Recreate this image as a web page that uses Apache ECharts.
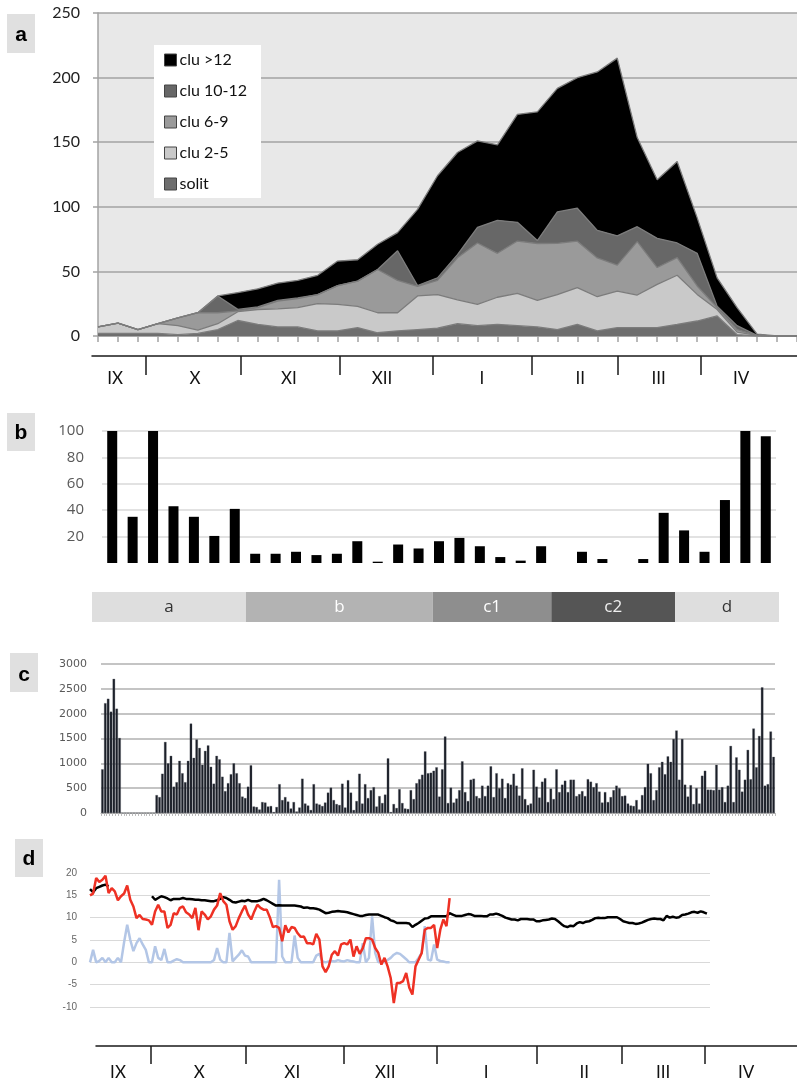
<!DOCTYPE html>
<html><head><meta charset="utf-8">
<script src="https://cdn.jsdelivr.net/npm/echarts@6/dist/echarts.min.js"></script>
<style>html,body{margin:0;padding:0;background:#fff}#chart{width:797px;height:1081px}</style>
</head><body><div id="chart"></div>
<script>
// ---------- panel a : weekly stacked counts ----------
const weeks = ['1','2','3','4','5','6','7','8','9','10','11','12','13','14','15','16','17','18','19','20','21','22','23','24','25','26','27','28','29','30','31','32','33','34','35','36'];
const solit  = [2,2,2,2,1,2,5,12,9,7,7,4,4,6.5,2.5,4,5,6,9.5,8,9,8,7,5,9,4,6.5,6.5,6.5,9,11.6,15.5,1,0,0,0];
const clu2_5 = [5,8,3,7.5,7,2.6,4.5,6.8,11.5,14,15,21,20.5,16.5,15.5,14,26,26,18.5,16.5,21,25,20.6,27,28.4,26.4,28.3,25.2,33.5,38,20.6,5,2,0.5,0,0];
const clu6_9 = [0,0,0,0,6,13.4,8.5,0.6,1.5,6,7,7,14.5,19.5,33.5,25,7.5,11,32.5,47.5,34,40.5,44,39.7,36,30,20,41.3,13,13.6,6.5,1.5,2,0,0,0];
const clu10_12 = [0,0,0,0,0,0,13,1.2,0.5,0.5,0.5,0,0,0,0,23,0.5,2,2.5,12,25.5,14.5,2.3,24.3,25.5,21.4,22.7,11.6,22.6,11.4,25.3,1,3,0,0,0];
const cluOver12 = [0,0,0,0,0,0,0,13,14,13.5,13.5,15,19,16.5,19.5,14,59,79,79,67,58.5,83.5,99.6,95.7,101,122.6,137.6,69,45.4,63,27.6,22,14,1,0,0];
const seriesNamesA = ['solit','clu 2-5','clu 6-9','clu 10-12','clu >12'];

// ---------- month axes ----------
const monthNames = ['IX','X','XI','XII','I','II','III','IV'];
const monthBoundsA = [2.39,7.11,12.04,16.67,21.59,25.87,30.0];   // in week index units
const monthMidsA   = [0.85,4.83,9.5,14.13,19.1,24.0,27.9,32.0];
const monthBoundsD = [19.7,50.3,81.9,111.9,143.9,171.6,198.4];   // in day index units
const monthMidsD   = [9,35.2,65.2,95.2,127.7,159.4,184.8,211.6];

// ---------- panel b ----------
const bCats = ['1','2','3','4','5','6','7','8','9','10','11','12','13','14','15','16','17','18','19','20','21','22','23','24','25','26','27','28','29','30','31','32','33'];
const bVals = [100,35,101,43,35,20.5,41,7,7,8.5,6,7,16.5,1,14,11,16.5,19,12.7,4.5,1.8,12.7,0,8.5,3,0,3,38,24.7,8.5,47.7,101,96];
const phaseNames  = ['a','b','c1','c2','d'];
const phaseBounds = [-0.49,7.05,16.2,22,28.06,33.15];

// ---------- panel c : daily bars ----------
const cVals = [880,2210,2300,2040,2700,2100,1510,0,0,0,0,0,0,0,0,0,0,0,0,
360,320,790,1430,1000,1150,530,620,1050,800,620,1050,1800,1110,1480,1310,970,1250,1360,930,
590,1150,1080,730,440,600,780,1000,800,600,330,300,530,960,130,120,70,220,210,130,
140,20,120,580,260,320,230,90,220,30,110,690,190,150,60,580,190,170,140,210,
410,510,260,180,160,590,110,660,410,60,240,790,190,580,300,460,520,130,340,200,
370,1100,20,180,100,
480,200,90,80,460,280,600,680,770,1240,800,810,850,920,330,880,1540,200,510,210,
290,460,1040,420,240,670,690,340,300,550,340,550,940,320,800,500,690,300,600,570,
790,550,350,900,280,160,190,870,530,310,630,700,220,490,280,880,420,570,650,420,
670,670,340,380,440,340,680,630,520,600,430,210,420,220,320,460,550,500,340,350,
190,150,140,260,70,360,520,990,800,260,460,920,1030,780,1140,1030,1490,1660,670,1490,
570,330,560,180,500,190,750,850,470,470,460,970,470,520,220,550,1350,220,1120,870,
430,670,1270,680,1700,920,1550,2530,550,580,1640,1130];
const cCats = cVals.map((v, i) => String(i + 1));

// ---------- panel d : daily lines ----------
const dDays = Array.from({length: 201}, (_, i) => String(i + 1));
const tempBlack = [16.4,15.7,16.6,16.9,17.2,17.4,17.0,null,null,null,null,null,null,null,null,null,null,null,null,null,
14.8,14.0,14.4,14.8,14.6,14.3,13.9,14.2,14.2,14.2,
14.4,14.2,14.2,14.1,14.0,14.0,13.9,13.9,13.8,13.7,
13.7,13.9,14.2,14.6,14.4,14.0,13.5,13.4,13.6,13.8,
13.7,14.0,13.7,13.7,13.7,13.9,14.2,13.9,13.5,13.1,
12.7,12.8,12.7,12.7,12.7,12.7,12.7,12.6,12.5,12.2,
12.3,12.1,12.1,12.0,11.8,11.4,11.0,11.1,11.3,11.4,
11.5,11.4,11.3,11.2,11.0,10.8,10.6,10.4,10.4,10.6,
10.7,10.7,10.7,10.7,10.4,10.1,9.9,9.4,9.2,8.8,
8.8,8.8,8.8,8.7,7.9,8.4,8.8,9.3,9.8,9.9,
10.3,10.3,10.3,10.3,10.3,10.3,11.0,10.7,10.4,10.4,
10.4,10.6,10.8,10.7,10.4,10.4,10.4,10.3,10.3,10.7,
10.7,10.9,10.7,10.4,10.0,9.8,9.6,9.6,9.4,9.7,
9.7,9.7,9.6,9.6,9.2,9.2,9.4,9.5,9.6,9.8,
9.7,9.2,8.6,8.1,7.9,8.2,8.1,8.7,9.0,8.8,
9.1,9.2,9.5,9.9,10.0,9.9,9.9,10.1,10.1,10.1,
10.1,9.7,9.2,9.0,8.8,8.8,8.6,8.7,8.9,9.2,
9.5,9.7,9.8,9.7,9.7,9.4,10.4,10.0,10.2,10.0,
10.1,10.6,10.7,10.9,11.2,11.3,11.1,11.4,11.2,10.9];
const tempRed = [15,15.4,18.9,18,18.5,19.4,15.5,16.6,15.9,13.9,
14.8,15.4,17.2,14,12.5,9.9,10.6,9.7,9.6,9.4,
8.4,11.4,12.9,11.4,11.4,7.7,8.4,11,10.7,12.2,
12.5,11.2,10.7,9.9,12.2,7.2,11.4,10.7,9.6,10.3,
11.8,12.7,15.5,13.7,12.9,9.2,7.3,8.1,9.9,11.4,
12.7,10.7,9.6,11.4,12.9,12.2,11.8,11.8,10.1,7.9,
8.1,7.7,4.7,8.3,6.7,7.9,7.7,6.5,5.7,5.8,
4.3,4.3,4.0,6.4,5.1,-0.9,-2.2,-0.9,1.7,2.5,
1.5,4.0,4.3,4.0,5.1,1.3,3.6,1.9,3.2,5.4,
5.4,5.1,3.2,2.1,-0.5,1.0,-0.9,-3.5,-9.1,-4.6,
-4.6,-4.2,-2.4,-5.7,-7.2,-0.9,0.6,2.1,7.3,7.7,
7.7,8.4,3.2,7.3,9.6,8.1,14.4];
const precipBlue = [0,2.8,0,0.3,1,0,1,0,0,1,
0,4.5,8.4,5,2.5,4.3,5.4,4,2.8,0,
0,3.6,1,0.5,3,0,0,0.4,0.7,0.5,
0,0,0,0,0,0,0,0,0,0,
0.5,3.2,0.6,0,0,6.6,0.2,1,1.7,2.7,
1.5,1.3,0,0,0,0,0,0,0,0,
0,18.5,1.3,0,0,0,6.0,1,0,0,
0,0,0,1.5,1.9,0.2,0,0.2,0.3,0.2,
0.5,0.3,0.2,0.5,0.3,0.2,0,0,4.3,0,
1,10.3,2.1,0,0.2,0,0.5,1,1.7,2.1,
1.9,1.3,0.7,0,0,0,1,2.1,8.1,0.6,
0.4,4.0,0.6,0.3,0.2,0,0];

// ---------- styles ----------
const areaColors = ['#6e6e6e','#c9c9c9','#9a9a9a','#676767','#000000'];
const phaseFill = ['#dedede','#b3b3b3','#8e8e8e','#555555','#dedede'];
const phaseText = ['#333333','#ffffff','#ffffff','#f0f0f0','#333333'];
const nearest = (arr, v) => { let b = 0; arr.forEach((a, i) => { if (Math.abs(a - v) < Math.abs(arr[b] - v)) b = i; }); return b; };

const chart = echarts.init(document.getElementById('chart'), null, {renderer: 'canvas'});
const aData = [solit, clu2_5, clu6_9, clu10_12, cluOver12];

const monthAxis = (gi, min, max, bounds, mids, margin, tickLen) => ({
  type: 'value', gridIndex: gi, min: min, max: max, position: 'bottom',
  axisLine: {show: true, lineStyle: {color: '#1a1a1a', width: 1.5}},
  axisTick: {show: true, customValues: bounds, length: tickLen, lineStyle: {color: '#1a1a1a', width: 1.5}},
  axisLabel: {show: true, customValues: mids, formatter: v => monthNames[nearest(mids, v)],
    fontSize: 17, color: '#111', margin: margin, fontFamily: 'Lato'},
  splitLine: {show: false}
});

const option = {
  animation: false,
  backgroundColor: '#ffffff',
  grid: [
    {left: 98, right: -5, top: 13, height: 323, show: true, backgroundColor: '#e8e8e8', borderWidth: 0},
    {left: 92, right: 0, top: 346, height: 10},
    {left: 102, right: 21, top: 431, height: 132},
    {left: 92, right: 18, top: 592, height: 30},
    {left: 101, right: 22, top: 664, height: 149},
    {left: 90, right: 87, top: 873, height: 134},
    {left: 96, right: 0, top: 1038, height: 10}
  ],
  xAxis: [
    {type: 'category', gridIndex: 0, data: weeks, boundaryGap: false,
     axisLine: {show: true, lineStyle: {color: '#a3a3a3', width: 1.5}},
     axisTick: {show: true, interval: 0, length: 6, lineStyle: {color: '#a3a3a3', width: 1.5}},
     axisLabel: {show: false}},
    monthAxis(1, -0.3, 34.78, monthBoundsA, monthMidsA, 14, 19),
    {type: 'category', gridIndex: 2, data: bCats, axisLine: {show: false}, axisTick: {show: false}, axisLabel: {show: false}},
    {type: 'value', gridIndex: 3, min: -0.49, max: 33.15, show: false},
    {type: 'category', gridIndex: 4, data: cCats,
     axisLine: {show: true, lineStyle: {color: '#a8a8a8', width: 1}},
     axisTick: {show: true, interval: 0, length: 3, lineStyle: {color: '#bdbdbd', width: 1}},
     axisLabel: {show: false}},
    {type: 'category', gridIndex: 5, data: dDays, boundaryGap: false, axisLine: {show: false}, axisTick: {show: false}, axisLabel: {show: false}},
    monthAxis(6, 1.9, 228, monthBoundsD, monthMidsD, 18, 18)
  ],
  yAxis: [
    {type: 'value', gridIndex: 0, min: 0, max: 250, interval: 50,
     axisLine: {show: true, lineStyle: {color: '#a3a3a3', width: 1.5}},
     axisTick: {show: true, length: 5, lineStyle: {color: '#a3a3a3', width: 1.5}},
     axisLabel: {fontSize: 16, color: '#222', margin: 18, fontFamily: 'Lato'},
     splitLine: {show: true, lineStyle: {color: '#a3a3a3', width: 1.5}}},
    {type: 'value', gridIndex: 1, show: false, min: 0, max: 1},
    {type: 'value', gridIndex: 2, min: 0, max: 100, interval: 20,
     axisLine: {show: false}, axisTick: {show: false},
     axisLabel: {fontSize: 15, color: '#595959', margin: 18, fontFamily: 'Open Sans', showMinLabel: false},
     splitLine: {show: true, showMinLine: false, lineStyle: {color: '#d9d9d9', width: 1.5}}},
    {type: 'value', gridIndex: 3, min: 0, max: 1, show: false},
    {type: 'value', gridIndex: 4, min: 0, max: 3000, interval: 500,
     axisLine: {show: false}, axisTick: {show: false},
     axisLabel: {fontSize: 11, color: '#595959', margin: 14, fontFamily: 'DejaVu Sans', formatter: v => String(v)},
     splitLine: {show: true, lineStyle: {color: '#b0b0b0', width: 1.5}}},
    {type: 'value', gridIndex: 5, min: -10, max: 20, interval: 5,
     axisLine: {show: false}, axisTick: {show: false},
     axisLabel: {fontSize: 10, color: '#666', margin: 13, fontFamily: 'Liberation Sans'},
     splitLine: {show: true, lineStyle: {color: '#d9d9d9', width: 1}}},
    {type: 'value', gridIndex: 6, show: false, min: 0, max: 1}
  ],
  legend: {
    left: 154, top: 45, orient: 'vertical', backgroundColor: '#ffffff',
    padding: [6, 14, 5, 10], itemGap: 13, itemWidth: 12, itemHeight: 12, icon: 'rect',
    data: ['clu >12', 'clu 10-12', 'clu 6-9', 'clu 2-5', 'solit'],
    itemStyle: {borderColor: '#444', borderWidth: 1},
    textStyle: {fontSize: 16, color: '#111', fontFamily: 'Lato', lineHeight: 18, padding: [0, 0, 0, -2]}
  },
  series: [
    ...aData.map((d, k) => ({
      name: seriesNamesA[k], type: 'line', xAxisIndex: 0, yAxisIndex: 0, stack: 'a',
      data: d, symbol: 'none', smooth: false,
      lineStyle: {color: '#7c7c7c', width: 1.3},
      itemStyle: {color: areaColors[k]},
      areaStyle: {color: areaColors[k], opacity: 1}
    })),
    {type: 'bar', xAxisIndex: 2, yAxisIndex: 2, data: bVals, barWidth: 10, itemStyle: {color: '#000'}},
    {type: 'custom', xAxisIndex: 3, yAxisIndex: 3, clip: false,
     data: phaseNames.map((n, i) => [phaseBounds[i], phaseBounds[i + 1], i]),
     encode: {x: [0, 1]},
     renderItem: (params, api) => {
       const i = api.value(2);
       const p0 = api.coord([api.value(0), 1]);
       const p1 = api.coord([api.value(1), 0]);
       return {type: 'group', children: [
         {type: 'rect', shape: {x: p0[0], y: p0[1], width: p1[0] - p0[0], height: p1[1] - p0[1]}, style: {fill: phaseFill[i]}},
         {type: 'text', x: (p0[0] + p1[0]) / 2, y: (p0[1] + p1[1]) / 2,
          style: {text: phaseNames[i], fill: phaseText[i], fontSize: 17, fontFamily: 'Open Sans', align: 'center', verticalAlign: 'middle'}}
       ]};
     }},
    {type: 'bar', xAxisIndex: 4, yAxisIndex: 4, data: cVals, barCategoryGap: '15%',
     itemStyle: {color: '#1a1e27', borderColor: '#555a63', borderWidth: 0.3}},
    {type: 'line', xAxisIndex: 5, yAxisIndex: 5, data: precipBlue, symbol: 'none', lineStyle: {color: '#b3c6e6', width: 2.5}},
    {type: 'line', xAxisIndex: 5, yAxisIndex: 5, data: tempBlack, symbol: 'none', connectNulls: false, lineStyle: {color: '#000000', width: 2.5}},
    {type: 'line', xAxisIndex: 5, yAxisIndex: 5, data: tempRed, symbol: 'none', lineStyle: {color: '#ee3124', width: 2.5}}
  ],
  graphic: [
    {type: 'rect', shape: {x: 7, y: 14, width: 28, height: 39}, style: {fill: '#e0e0e0'}},
    {type: 'text', x: 21, y: 35, style: {text: 'a', fontSize: 21, fontWeight: 'bold', fill: '#000', align: 'center', verticalAlign: 'middle', fontFamily: 'Liberation Sans'}},
    {type: 'rect', shape: {x: 7, y: 413, width: 28, height: 38}, style: {fill: '#e0e0e0'}},
    {type: 'text', x: 21, y: 433, style: {text: 'b', fontSize: 21, fontWeight: 'bold', fill: '#000', align: 'center', verticalAlign: 'middle', fontFamily: 'Liberation Sans'}},
    {type: 'rect', shape: {x: 10, y: 653, width: 28, height: 39}, style: {fill: '#e0e0e0'}},
    {type: 'text', x: 24, y: 675, style: {text: 'c', fontSize: 21, fontWeight: 'bold', fill: '#000', align: 'center', verticalAlign: 'middle', fontFamily: 'Liberation Sans'}},
    {type: 'rect', shape: {x: 15, y: 839, width: 28, height: 38}, style: {fill: '#e0e0e0'}},
    {type: 'text', x: 29, y: 859, style: {text: 'd', fontSize: 21, fontWeight: 'bold', fill: '#000', align: 'center', verticalAlign: 'middle', fontFamily: 'Liberation Sans'}}
  ]
};
chart.setOption(option);
</script></body></html>
